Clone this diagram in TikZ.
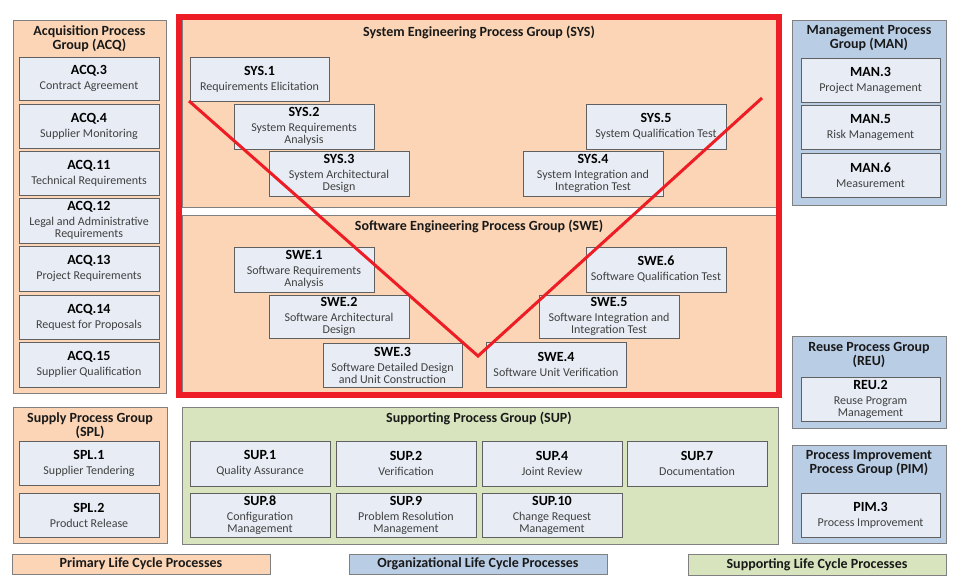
\documentclass[tikz,border=0pt]{standalone}
\usepackage{fontspec}
\setmainfont{Carlito}
\definecolor{peach}{HTML}{FBD5B5}
\definecolor{boxfill}{HTML}{E8EDF5}
\definecolor{bluegrp}{HTML}{B9CDE5}
\definecolor{greengrp}{HTML}{D7E4BD}
\definecolor{vred}{HTML}{EE1C25}
\definecolor{grpline}{HTML}{808080}
\definecolor{boxline}{HTML}{606060}
\definecolor{desctext}{HTML}{404040}
\newcommand\idfnt{\fontsize{14}{14}\selectfont\bfseries\color{black}}
\newcommand\descfnt{\fontsize{12}{12}\selectfont}
\newcommand\pbx[7]{\node[pbox, minimum width={(#4-#2)*1pt}, minimum height={(#5-#3)*1pt}] (#1) at ({(#2+#4)/2},{(#3+#5)/2}) {{\idfnt #6}\\[3pt]#7};}
\begin{document}
\begin{tikzpicture}[x=1pt,y=-1pt,
  grp/.style={draw=grpline, line width=1pt},
  pbox/.style={draw=boxline, fill=boxfill, line width=0.9pt, align=center, inner sep=0pt, font=\descfnt, text=desctext},
  gtitle/.style={align=center, inner sep=0pt, font=\fontsize{14}{14}\selectfont\bfseries, text=black!90},
  legend/.style={draw=grpline, line width=1pt, inner sep=0pt, font=\fontsize{14}{14}\selectfont\bfseries, text=black!90}]
\useasboundingbox (0,0) rectangle (964,586);
\fill[white] (0,0) rectangle (964,586);
% ACQ group
\draw[grp, fill=peach] (13,21) rectangle (166,393);
\node[gtitle] (acqt) at (89.5,39) {Acquisition Process\\Group (ACQ)};
\pbx{acq3}{19}{57}{159}{100}{ACQ.3}{Contract Agreement}
\pbx{acq4}{19}{104}{159}{148}{ACQ.4}{Supplier Monitoring}
\pbx{acq11}{19}{151}{159}{195}{ACQ.11}{Technical Requirements}
\pbx{acq12}{19}{198}{159}{243}{ACQ.12}{Legal and Administrative\\Requirements}
\pbx{acq13}{19}{246}{159}{291}{ACQ.13}{Project Requirements}
\pbx{acq14}{19}{295}{159}{339}{ACQ.14}{Request for Proposals}
\pbx{acq15}{19}{342}{159}{387}{ACQ.15}{Supplier Qualification}
% SPL group
\draw[grp, fill=peach] (13,407) rectangle (167,543);
\node[gtitle] (splt) at (90,425.5) {Supply Process Group\\(SPL)};
\pbx{spl1}{19}{441}{159}{485}{SPL.1}{Supplier Tendering}
\pbx{spl2}{19}{493}{159}{537}{SPL.2}{Product Release}
% SYS / SWE panels
\draw[grp, fill=peach] (182,20) rectangle (776,207);
\draw[grp, fill=peach] (182,215) rectangle (776,392);
\node[gtitle] (syst) at (479,32) {System Engineering Process Group (SYS)};
\node[gtitle] (swet) at (479,226) {Software Engineering Process Group (SWE)};
\pbx{sys1}{190}{57}{329}{101}{SYS.1}{Requirements Elicitation}
\pbx{sys2}{234}{104}{374}{149}{SYS.2}{System Requirements\\Analysis}
\pbx{sys3}{269}{151}{409}{196}{SYS.3}{System Architectural\\Design}
\pbx{sys5}{586}{104}{726}{149}{SYS.5}{System Qualification Test}
\pbx{sys4}{523}{151}{663}{196}{SYS.4}{System Integration and\\Integration Test}
\pbx{swe1}{234}{247}{374}{292}{SWE.1}{Software Requirements\\Analysis}
\pbx{swe2}{269}{295}{409}{338}{SWE.2}{Software Architectural\\Design}
\pbx{swe3}{323}{343}{462}{387}{SWE.3}{Software Detailed Design\\and Unit Construction}
\pbx{swe6}{586}{247}{726}{292}{SWE.6}{Software Qualification Test}
\pbx{swe5}{539}{295}{679}{338}{SWE.5}{Software Integration and\\Integration Test}
\pbx{swe4}{486}{342}{626}{387}{SWE.4}{Software Unit Verification}
% V line
\coordinate (va) at (189,101);
\coordinate (vb) at (478,356);
\coordinate (vc) at (762,98);
\draw[vred, line width=3pt] (va) -- (vb) -- (vc);
% red frame
\draw[vred, line width=6pt] (179,17) rectangle (779,395);
% SUP group
\draw[grp, fill=greengrp] (182,407) rectangle (778,544);
\node[gtitle] (supt) at (479,418) {Supporting Process Group (SUP)};
\pbx{sup1}{190}{441}{330}{486}{SUP.1}{Quality Assurance}
\pbx{sup2}{336}{441}{476}{486}{SUP.2}{Verification}
\pbx{sup4}{482}{441}{622}{486}{SUP.4}{Joint Review}
\pbx{sup7}{627}{441}{767}{486}{SUP.7}{Documentation}
\pbx{sup8}{190}{493}{330}{537}{SUP.8}{Configuration\\Management}
\pbx{sup9}{336}{493}{476}{537}{SUP.9}{Problem Resolution\\Management}
\pbx{sup10}{482}{493}{622}{537}{SUP.10}{Change Request\\Management}
% MAN group
\draw[grp, fill=bluegrp] (792,21) rectangle (946,205);
\node[gtitle] (mant) at (869,38.5) {Management Process\\Group (MAN)};
\pbx{man3}{801}{58}{940}{102}{MAN.3}{Project Management}
\pbx{man5}{801}{105}{940}{149}{MAN.5}{Risk Management}
\pbx{man6}{801}{153}{940}{197}{MAN.6}{Measurement}
% REU group
\draw[grp, fill=bluegrp] (792,336) rectangle (946,428);
\node[gtitle] (reut) at (869,355) {Reuse Process Group\\(REU)};
\pbx{reu2}{801}{377}{940}{421}{REU.2}{Reuse Program\\Management}
% PIM group
\draw[grp, fill=bluegrp] (792,445) rectangle (946,543);
\node[gtitle] (pimt) at (869,463) {Process Improvement\\Process Group (PIM)};
\pbx{pim3}{801}{493}{940}{537}{PIM.3}{Process Improvement}
% legends
\node[legend, fill=peach, minimum width=258pt, minimum height=20pt] (lgp) at (141,564) {Primary Life Cycle Processes};
\node[legend, fill=bluegrp, minimum width=258pt, minimum height=20pt] (lgo) at (478,564) {Organizational Life Cycle Processes};
\node[legend, fill=greengrp, minimum width=258pt, minimum height=21pt] (lgs) at (817,564.5) {Supporting Life Cycle Processes};
\end{tikzpicture}
\end{document}
